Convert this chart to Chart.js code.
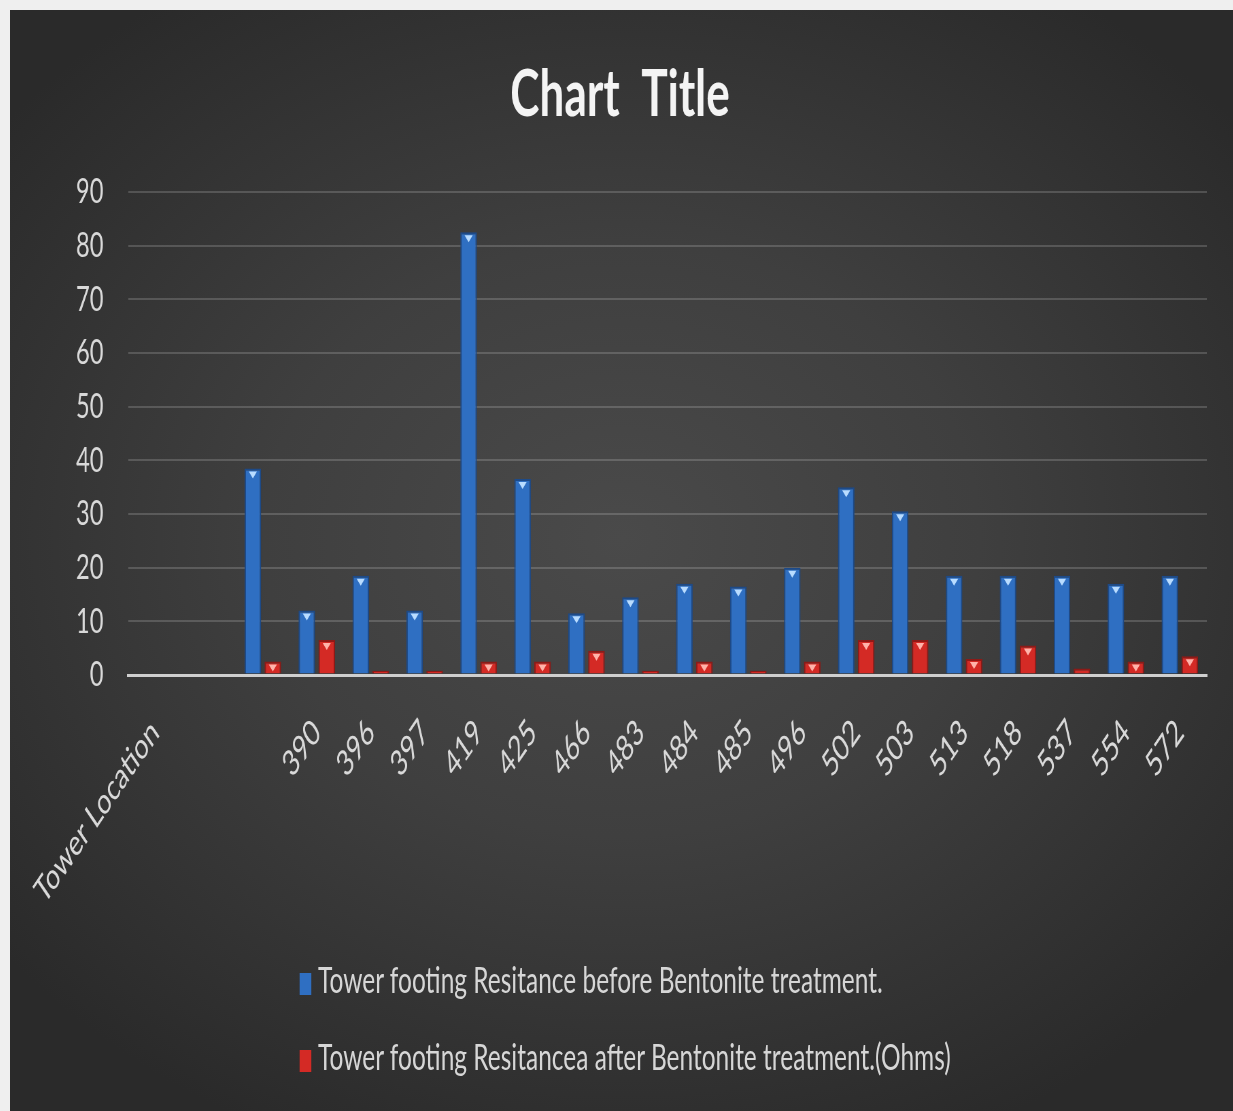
<!DOCTYPE html>
<html>
<head>
<meta charset="utf-8">
<script src="https://cdn.jsdelivr.net/npm/chart.js@4.4.1/dist/chart.umd.min.js"></script>
<style>
  html, body { margin: 0; padding: 0; background: #efefef; }
  #marco {
    position: absolute; left: 10px; top: 10px; width: 1223px; height: 1101px;
    background: radial-gradient(ellipse 65% 60% at 50% 48%, #4a4a4a 0%, #3f3f3f 45%, #2a2a2a 100%);
    overflow: hidden;
  }
  /* el grafico original se ve comprimido en horizontal */
  #escala { position: absolute; left: 0; top: 0; width: 1799px; height: 1101px; transform: scaleX(0.68); transform-origin: 0 0; }
  #grafico { position: absolute; left: 0; top: 0; }
  .leyenda { position: absolute; left: 426px; font: 36px Lato, "Open Sans", sans-serif; color: #d6d6d6; white-space: nowrap; line-height: 44px; }
  .leyenda span.caja { display: inline-block; width: 17px; height: 22px; margin-right: 10px; vertical-align: -2px; }
</style>
</head>
<body>
<div id="marco">
  <div id="escala">
    <canvas id="grafico" width="1799" height="900" style="width:1799px;height:900px"></canvas>
    <div id="leyenda"></div>
  </div>
</div>
<script>
// Datos
const torres = ['Tower Location', '', '', '390', '396', '397', '419', '425', '466', '483', '484', '485', '496', '502', '503', '513', '518', '537', '554', '572'];
const antes = [null, null, 38.5, 12, 18.5, 12, 82.5, 36.5, 11.5, 14.5, 17, 16.5, 20, 35, 30.5, 18.5, 18.5, 18.5, 17, 18.5];
const despues = [null, null, 2.5, 6.5, 0.8, 0.8, 2.5, 2.5, 4.5, 0.8, 2.5, 0.8, 2.5, 6.5, 6.5, 3, 5.5, 1.2, 2.5, 3.5];
const etiquetasSeries = ['Tower footing Resitance before Bentonite treatment.', 'Tower footing Resitancea after Bentonite treatment.(Ohms)'];
const marcasY = [0, 10, 20, 30, 40, 50, 60, 70, 80, 90];

const fuente = 'Lato, "Open Sans", sans-serif';

// Triangulos pequeños encima de cada barra (como los marcadores de Excel)
const marcadores = {
    id: 'marcadores',
    afterDatasetsDraw(chart) {
        const ctx = chart.ctx;
        const colores = ['#b9dcff', '#ffb3aa'];
        chart.data.datasets.forEach((ds, i) => {
            chart.getDatasetMeta(i).data.forEach((barra, j) => {
                if (ds.data[j] == null) return;
                if (barra.base - barra.y < 9) return; // barra muy baja, sin marcador
                const x = barra.x, y = barra.y;
                ctx.save();
                ctx.fillStyle = colores[i];
                ctx.beginPath();
                ctx.moveTo(x - 6, y + 3);
                ctx.lineTo(x + 6, y + 3);
                ctx.lineTo(x, y + 10);
                ctx.closePath();
                ctx.fill();
                ctx.restore();
            });
        });
    }
};

const ctx = document.getElementById('grafico').getContext('2d');
const grafico = new Chart(ctx, {
    type: 'bar',
    data: {
        labels: torres,
        datasets: [{
            label: etiquetasSeries[0],
            data: antes,
            backgroundColor: '#2f6fc2',
            borderColor: '#1d4a88',
            borderWidth: 2,
            categoryPercentage: 0.74,
            barPercentage: 0.83
        }, {
            label: etiquetasSeries[1],
            data: despues,
            backgroundColor: '#d42a25',
            borderColor: '#8e1a17',
            borderWidth: 2,
            categoryPercentage: 0.74,
            barPercentage: 0.83
        }]
    },
    options: {
        responsive: false,
        animation: false,
        layout: { padding: { left: 34, right: 39, top: 0, bottom: 0 } },
        plugins: {
            legend: { display: false },
            tooltip: { enabled: false },
            title: {
                display: true,
                text: 'Chart  Title',
                color: '#f4f4f4',
                font: { family: fuente, size: 65, weight: 'bold' },
                padding: { top: 46, bottom: 58 }
            }
        },
        scales: {
            x: {
                grid: { display: false },
                border: { display: true, color: '#cfcfcf', width: 3 },
                ticks: {
                    color: '#d9d9d9',
                    font: { family: fuente, size: 36 },
                    autoSkip: false,
                    minRotation: 45,
                    maxRotation: 45,
                    padding: 28
                },
                afterFit(escala) { escala.height = 235; }
            },
            y: {
                min: 0,
                max: 90,
                afterBuildTicks(escala) { escala.ticks = marcasY.map(v => ({ value: v })); },
                grid: {
                    color: ctx => ctx.tick && ctx.tick.value === 0 ? '#cfcfcf' : 'rgba(255,255,255,0.17)',
                    lineWidth: ctx => ctx.tick && ctx.tick.value === 0 ? 3 : 2,
                    drawTicks: false
                },
                border: { display: false },
                ticks: {
                    color: '#d9d9d9',
                    font: { family: fuente, size: 35 },
                    padding: 36
                },
                afterFit(escala) { escala.width = 139.5; }
            }
        }
    },
    plugins: [marcadores]
});

// Leyenda en HTML, una serie por linea
const leyenda = document.getElementById('leyenda');
const colores = ['#2f6fc2', '#d42a25'];
const posiciones = [947, 1024];
grafico.data.datasets.forEach((ds, i) => {
    const item = document.createElement('div');
    item.className = 'leyenda';
    item.style.top = posiciones[i] + 'px';
    item.innerHTML = `<span class="caja" style="background:${colores[i]}"></span>${ds.label}`;
    leyenda.appendChild(item);
});
</script>
</body>
</html>
